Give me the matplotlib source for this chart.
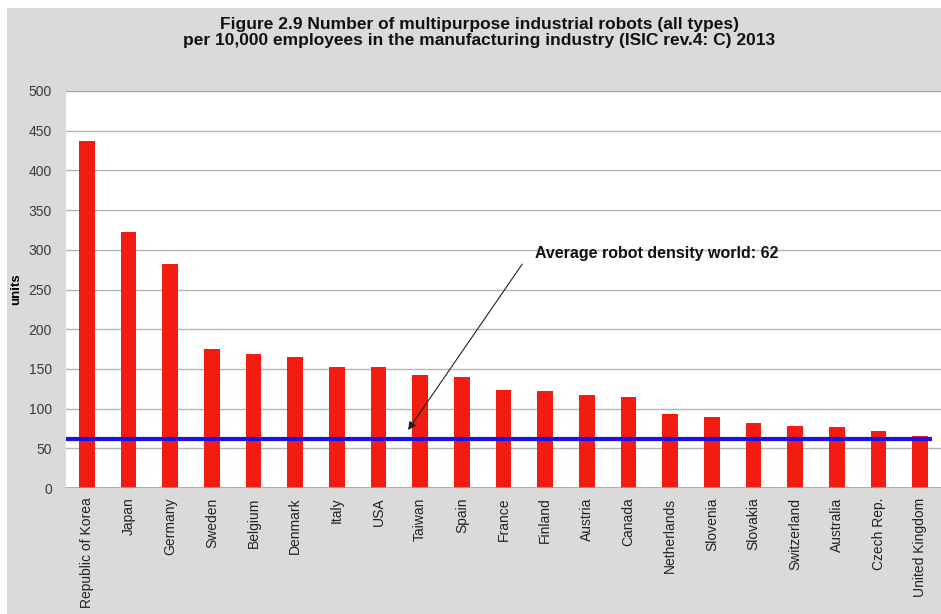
import matplotlib
matplotlib.use("Agg")
import matplotlib.pyplot as plt
from matplotlib.patches import Rectangle

countries = ["Republic of Korea", "Japan", "Germany", "Sweden", "Belgium", "Denmark",
             "Italy", "USA", "Taiwan", "Spain", "France", "Finland", "Austria", "Canada",
             "Netherlands", "Slovenia", "Slovakia", "Switzerland", "Australia",
             "Czech Rep.", "United Kingdom"]
density = [437, 323, 282, 175, 169, 165, 153, 152, 142, 140, 124, 122, 117, 115,
           93, 90, 82, 78, 77, 72, 66]
world_avg = 62
yticks = list(range(0, 501, 50))

plt.rcParams['font.family'] = ['Liberation Sans', 'DejaVu Sans']

fig = plt.figure(figsize=(9.41, 6.14), dpi=100, facecolor='white')
# grey panel behind the chart
panel = Rectangle((7 / 941, 0), 1, 1 - 8 / 614, transform=fig.transFigure,
                  facecolor='#dadada', edgecolor='none', zorder=-10)
fig.patches.append(panel)

ax = fig.add_axes([66 / 941, 1 - 488 / 614, 875 / 941, 397 / 614])
ax.set_zorder(1)
ax.set_facecolor('white')

x = list(range(len(countries)))
ax.bar(x, density, width=0.38, color='#f21c13', zorder=3)

# world average line
ax.plot([-0.5, 20.29], [world_avg, world_avg], color='#1a10e8', lw=3, zorder=4,
        solid_capstyle='butt')

ax.set_xlim(-0.5, len(countries) - 0.5)
ax.set_ylim(0, 500)
ax.set_yticks(yticks)
ax.yaxis.grid(True, color='#b5b5b5', lw=1)
ax.set_axisbelow(True)
for s in ax.spines.values():
    s.set_visible(False)
ax.axhline(500, color='#a0a0a0', lw=1.2)
ax.axhline(0, color='#a0a0a0', lw=1.2, zorder=5)

ax.set_xticks(x)
ax.set_xticklabels(countries, rotation=90, fontsize=10, color='#222222')
ax.tick_params(axis='x', length=0, pad=7)
ax.tick_params(axis='y', length=0, pad=10, labelsize=10, labelcolor='#3a3a3a')

ax.set_ylabel("units", fontsize=9.5, fontweight='bold')
ax.yaxis.set_label_coords(-44 / 875, 0.5)

ax.annotate("", xy=(7.71, 73), xytext=(10.45, 282),
            arrowprops=dict(arrowstyle='-|>', color='#222222', lw=0.8,
                            mutation_scale=12, shrinkA=0, shrinkB=0))
ax.text(10.75, 295, "Average robot density world: 62", fontsize=11.5,
        fontweight='bold', va='center', ha='left', color='#111111')

fig.text(479 / 941, 1 - 24 / 614, "Figure 2.9 Number of multipurpose industrial robots (all types)",
         ha='center', va='center', fontsize=12.5, fontweight='bold', color='#111111')
fig.text(479 / 941, 1 - 41 / 614,
         "per 10,000 employees in the manufacturing industry (ISIC rev.4: C) 2013",
         ha='center', va='center', fontsize=12.5, fontweight='bold', color='#111111')

fig.savefig("out.png", dpi=100, facecolor=fig.get_facecolor())
